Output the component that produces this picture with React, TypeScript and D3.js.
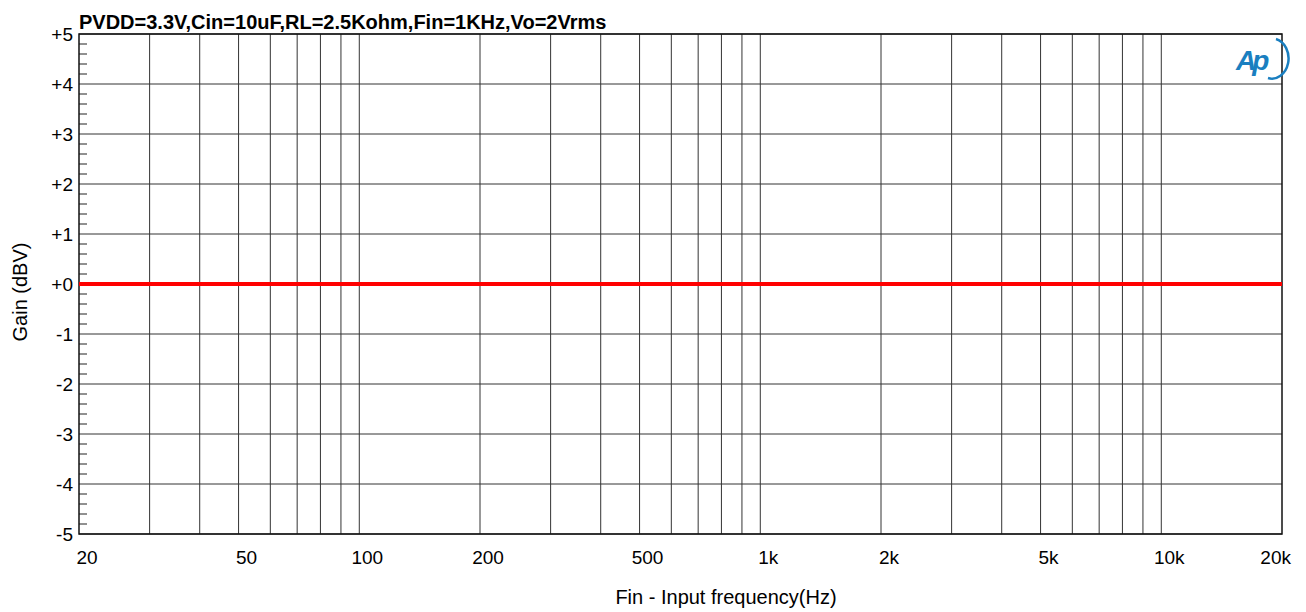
import React from 'react';
import * as d3 from 'd3';

const title = 'PVDD=3.3V,Cin=10uF,RL=2.5Kohm,Fin=1KHz,Vo=2Vrms';
const xTickValues = [20, 50, 100, 200, 500, 1000, 2000, 5000, 10000, 20000];
const xTickLabels = ['20', '50', '100', '200', '500', '1k', '2k', '5k', '10k', '20k'];
const yTickValues = [5, 4, 3, 2, 1, 0, -1, -2, -3, -4, -5];
const yTickLabels = ['+5', '+4', '+3', '+2', '+1', '+0', '-1', '-2', '-3', '-4', '-5'];
const gridFreqs = [
  30, 40, 50, 60, 70, 80, 90, 100,
  200, 300, 400, 500, 600, 700, 800, 900, 1000,
  2000, 3000, 4000, 5000, 6000, 7000, 8000, 9000, 10000,
];
const gainFreq = [20, 50, 100, 200, 500, 1000, 2000, 5000, 10000, 20000];
const gainDb = [0, 0, 0, 0, 0, 0, 0, 0, 0, 0];

const W = 1306;
const H = 612;
const m = { left: 79, right: 1282, top: 34, bottom: 534 };
const font = 'Liberation Sans, Arial, sans-serif';

export default function App() {
  const x = d3.scaleLog().domain([20, 20000]).range([m.left, m.right]);
  const y = d3.scaleLinear().domain([-5, 5]).range([m.bottom, m.top]);
  const line = d3.line<number>()
    .x((_, i) => x(gainFreq[i]))
    .y(d => y(d));

  const minor = d3.range(-5, 5.001, 0.2).filter(v => Math.abs(v - Math.round(v)) > 0.01);
  const last = xTickValues.length - 1;

  return (
    <svg width={W} height={H} style={{ position: 'absolute', left: 0, top: 0 }}>
      <rect width={W} height={H} fill="#fff" />
      {/* horizontal grid */}
      {yTickValues.map(v => (
        <line key={'h' + v} x1={m.left} x2={m.right} y1={y(v)} y2={y(v)} stroke="#333" strokeWidth={1} />
      ))}
      {/* vertical grid */}
      {gridFreqs.map(f => (
        <line key={'v' + f} x1={x(f)} x2={x(f)} y1={m.top} y2={m.bottom} stroke="#333" strokeWidth={1} />
      ))}
      {/* minor y ticks */}
      {minor.map(v => (
        <line key={'m' + v.toFixed(1)} x1={m.left} x2={m.left + 8} y1={y(v)} y2={y(v)} stroke="#222" strokeWidth={1} />
      ))}
      <rect x={m.left} y={m.top} width={m.right - m.left} height={m.bottom - m.top} fill="none" stroke="#111" strokeWidth={1.5} />
      <path d={line(gainDb) || ''} fill="none" stroke="#ff0000" strokeWidth={4} />
      {/* y labels */}
      {yTickValues.map((v, i) => (
        <text key={'yl' + v} x={m.left - 6} y={y(v) + 7} textAnchor="end" fontFamily={font} fontSize={19} fill="#000">
          {yTickLabels[i]}
        </text>
      ))}
      {xTickValues.map((v, i) => (
        <text key={'xl' + v} x={i === last ? x(v) + 9 : x(v) + 8} y={564}
          textAnchor={i === last ? 'end' : 'middle'} fontFamily={font} fontSize={19} fill="#000">
          {xTickLabels[i]}
        </text>
      ))}
      <text x={m.left} y={29} fontFamily={font} fontSize={20} fontWeight="bold" fill="#000">{title}</text>
      <text x={726} y={604} textAnchor="middle" fontFamily={font} fontSize={20} fill="#000">
        Fin - Input frequency(Hz)
      </text>
      <text transform={`translate(27,292) rotate(-90)`} textAnchor="middle" fontFamily={font} fontSize={20} fill="#000">
        Gain (dBV)
      </text>
      {/* AP logo */}
      <g transform="translate(1236,70)">
        <text x={0} y={0} fontFamily={font} fontSize={28} fontStyle="italic" fontWeight="bold" fill="#1a7fc0" letterSpacing={-4}>Ap</text>
        <path d="M 28 -31 A 14 17 0 0 1 20 8" fill="none" stroke="#1a7fc0" strokeWidth={2.5} transform="translate(12,0)" />
      </g>
    </svg>
  );
}
